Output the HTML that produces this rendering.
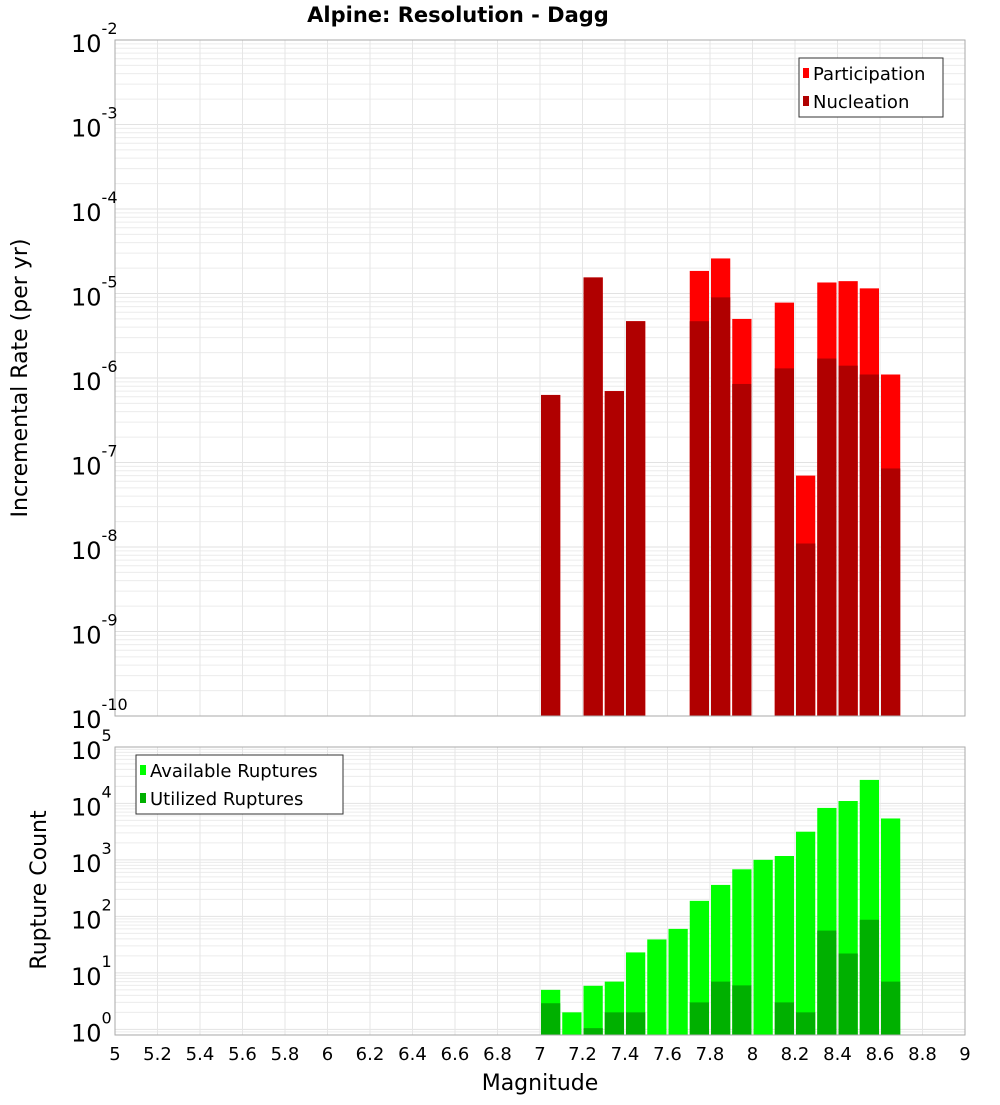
<!DOCTYPE html>
<html><head><meta charset="utf-8"><style>
body{margin:0;background:#fff;}
svg{font-family:"DejaVu Sans","Liberation Sans",sans-serif;}
</style></head><body>
<svg id="chart" width="1000" height="1100" xmlns="http://www.w3.org/2000/svg">
<text x="458" y="22" text-anchor="middle" font-size="21" font-weight="bold">Alpine: Resolution - Dagg</text>
<g id="topPanel"></g><g id="botPanel"></g>
<text transform="translate(27,378) rotate(-90)" text-anchor="middle" font-size="22">Incremental Rate (per yr)</text>
<text transform="translate(46,890) rotate(-90)" text-anchor="middle" font-size="22">Rupture Count</text>
<text x="540" y="1090" text-anchor="middle" font-size="22">Magnitude</text>
</svg>
<script>
const bins=[7.0,7.1,7.2,7.3,7.4,7.5,7.6,7.7,7.8,7.9,8.0,8.1,8.2,8.3,8.4,8.5,8.6];
const participation=[6.3e-7,0,1.55e-5,7e-7,4.7e-6,0,0,1.85e-5,2.6e-5,5e-6,0,7.8e-6,7e-8,1.35e-5,1.4e-5,1.15e-5,1.1e-6];
const nucleation=[6.3e-7,0,1.55e-5,7e-7,4.7e-6,0,0,4.7e-6,9e-6,8.5e-7,0,1.3e-6,1.1e-8,1.7e-6,1.4e-6,1.1e-6,8.5e-8];
const available=[5,2,5.9,7,23,39,60,188,360,680,1000,1170,3150,8300,11000,26000,5400];
const utilized=[2.9,0,1.05,2,2,0,0,3,7,6,0,3,2,56,22,87,7];
const xTicks=[5,5.2,5.4,5.6,5.8,6,6.2,6.4,6.6,6.8,7,7.2,7.4,7.6,7.8,8,8.2,8.4,8.6,8.8,9];
const topExps=[-2,-3,-4,-5,-6,-7,-8,-9,-10];
const botExps=[0,1,2,3,4,5];

const NS="http://www.w3.org/2000/svg";
const X0=115,X1=965;
const xs=m=>X0+(m-5)/4*(X1-X0);
const yTop=v=>40+(-2-Math.log10(v))*84.5;
const yBot=v=>1035-(Math.log10(v)+0.1)*56.5;
function mk(p,tag,attrs){const e=document.createElementNS(NS,tag);for(const k in attrs)e.setAttribute(k,attrs[k]);p.appendChild(e);return e;}

function panel(g,y0,y1,ymap,lo,hi,exps,sets,nm){
  mk(g,'rect',{x:X0,y:y0,width:X1-X0,height:y1-y0,fill:'#fff'});
  for(let e=lo;e<hi;e++)for(let k=1;k<10;k++){const y=ymap(k*Math.pow(10,e));if(y<y0||y>y1)continue;
    const l=mk(g,'line',{x1:X0,x2:X1,y1:y,y2:y,stroke:k==1?'#e2e2e2':'#ececec','stroke-width':1});
    
    }
  xTicks.forEach(t=>{const x=xs(t);const l=mk(g,'line',{x1:x,x2:x,y1:y0,y2:y1,stroke:'#e6e6e6'});
    
    });
  sets.forEach(s=>{s.vals.forEach((v,i)=>{if(!v)return;const x=xs(bins[i])+1;const y=Math.max(ymap(v),y0);
    const r=mk(g,'rect',{x:x,y:y,width:xs(bins[i]+0.1)-x-1,height:y1-y,fill:s.color});
    
    });});
  mk(g,'rect',{x:X0,y:y0,width:X1-X0,height:y1-y0,fill:'none',stroke:'#aaa'});
  exps.forEach(e=>{const y=ymap(Math.pow(10,e));const t=mk(g,'text',{x:71,y:y+12,'font-size':24});
    
    
    t.textContent='10';const s=mk(t,'tspan',{dy:-18,'font-size':16});s.textContent=String(e);});
}
const gTop=document.getElementById('topPanel'),gBot=document.getElementById('botPanel');
panel(gTop,40,716,yTop,-10,-2,topExps,[{vals:participation,color:'#ff0000',name:'participation'},{vals:nucleation,color:'#b00000',name:'nucleation'}],'top');
panel(gBot,747,1035,yBot,-1,5,botExps,[{vals:available,color:'#00ff00',name:'available'},{vals:utilized,color:'#00b000',name:'utilized'}],'bottom');
xTicks.forEach(t=>{const tx=mk(gBot,'text',{x:xs(t),y:1060,'text-anchor':'middle','font-size':18});
  
  
  tx.textContent=String(t);});
function legend(g,x,y,w,items,nm){const lg=mk(g,'g',{});
  
  
  mk(lg,'rect',{x:x,y:y,width:w,height:59,fill:'#fff',stroke:'#333'});
  items.forEach((it,i)=>{mk(lg,'rect',{x:x+4,y:y+10+i*28,width:6,height:10,fill:it[1]});
    const t=mk(lg,'text',{x:x+14,y:y+22+i*28,'font-size':18});t.textContent=it[0];});}
legend(gTop,799,58,144,[['Participation','#ff0000'],['Nucleation','#b00000']],'top-legend');
legend(gBot,136,755,207,[['Available Ruptures','#00ff00'],['Utilized Ruptures','#00b000']],'bottom-legend');
</script>
</body></html>
